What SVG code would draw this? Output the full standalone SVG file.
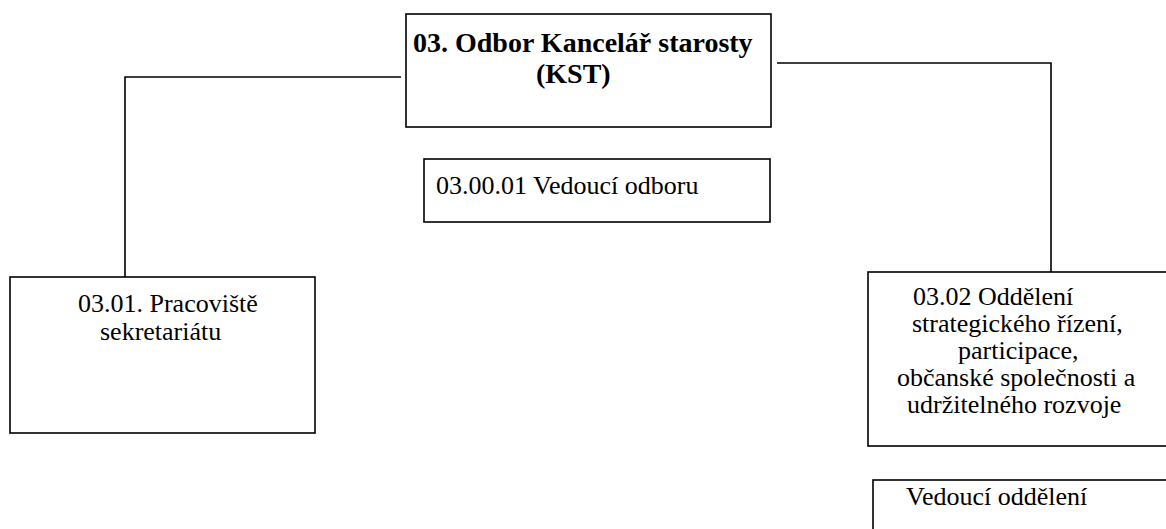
<svg xmlns="http://www.w3.org/2000/svg" width="1166" height="529" viewBox="0 0 1166 529">
<style>
.box{fill:#fff;stroke:#000;stroke-width:1.6}
.con{fill:none;stroke:#000;stroke-width:1.6}
.t{font-family:"Liberation Serif","Times New Roman",serif;font-size:26px;fill:#000}
.b{font-weight:bold;font-size:28px}
</style>
<rect width="1166" height="529" fill="#fff"/>
<g id="connectors">
<polyline class="con" points="401,77 125,77 125,277"/>
<polyline class="con" points="777,63 1051,63 1051,279"/>
</g>
<g id="kst">
<rect class="box" x="406" y="14" width="365" height="113"/>
<text class="t b" x="413" y="52">03. Odbor Kancelář starosty</text>
<text class="t b" x="536" y="83">(KST)</text>
</g>
<g id="vedouci-odboru">
<rect class="box" x="424" y="159" width="346" height="63"/>
<text class="t" x="436" y="194">03.00.01 Vedoucí odboru</text>
</g>
<g id="sekretariat">
<rect class="box" x="10" y="277" width="305" height="156"/>
<text class="t" x="78" y="312">03.01. Pracoviště</text>
<text class="t" x="100" y="340">sekretariátu</text>
</g>
<g id="oddeleni">
<rect class="box" x="868" y="272" width="310" height="174"/>
<text class="t" x="913" y="305">03.02 Oddělení</text>
<text class="t" x="912" y="332">strategického řízení,</text>
<text class="t" x="958" y="359">participace,</text>
<text class="t" x="897" y="386">občanské společnosti a</text>
<text class="t" x="907" y="413">udržitelného rozvoje</text>
</g>
<g id="vedouci-oddeleni">
<rect class="box" x="873" y="480" width="310" height="70"/>
<text class="t" x="906" y="505">Vedoucí oddělení</text>
</g>
</svg>
